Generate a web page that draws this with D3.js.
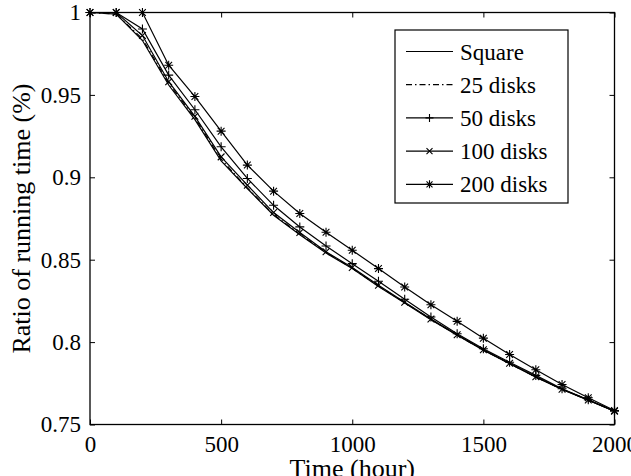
<!DOCTYPE html>
<html>
<head>
<meta charset="utf-8">
<script src="https://cdn.jsdelivr.net/npm/d3@7"></script>
<style>
  body { margin: 0; background: #fff; }
</style>
</head>
<body>
<div id="chart"></div>
<script>
(function() {
    "use strict";

    // data (one point every 100 hours)
    const hours = [0, 100, 200, 300, 400, 500, 600, 700, 800, 900, 1000,
                   1100, 1200, 1300, 1400, 1500, 1600, 1700, 1800, 1900, 2000];
    const square = [1, 0.999, 0.983, 0.956, 0.935, 0.910, 0.8932, 0.877, 0.8652, 0.854, 0.8446,
                    0.8338, 0.8237, 0.8136, 0.8041, 0.795, 0.7869, 0.7787, 0.7713, 0.7648, 0.758];
    const disks25 = [1, 0.999, 0.984, 0.957, 0.936, 0.911, 0.8935, 0.8775, 0.8655, 0.8545, 0.8448,
                     0.834, 0.824, 0.8138, 0.8043, 0.7952, 0.787, 0.7788, 0.7714, 0.7649, 0.7582];
    const disks50 = [1, 1, 0.990, 0.962, 0.941, 0.9185, 0.8993, 0.883, 0.8699, 0.8583, 0.8476,
                     0.8369, 0.826, 0.8152, 0.8051, 0.796, 0.7878, 0.7798, 0.7717, 0.765, 0.758];
    const disks100 = [1, 1, 0.986, 0.958, 0.937, 0.9124, 0.8952, 0.8786, 0.8665, 0.8548, 0.8452,
                      0.8345, 0.8242, 0.814, 0.8045, 0.7953, 0.7872, 0.779, 0.7714, 0.7648, 0.758];
    const disks200 = [1, 1, 1, 0.968, 0.949, 0.928, 0.9074, 0.8916, 0.878, 0.8667, 0.8557,
                      0.8446, 0.8334, 0.8227, 0.8126, 0.8024, 0.7925, 0.7832, 0.7743, 0.7662, 0.7585];

    const seriesNames = ["Square", "25 disks", "50 disks", "100 disks", "200 disks"];
    const seriesValues = [square, disks25, disks50, disks100, disks200];
    const seriesMarkers = ["none", "none", "plus", "cross", "star"];
    const seriesDash = [null, "6,3,1.5,3", null, null, null];

    const xTicks = [0, 500, 1000, 1500, 2000];
    const yTicks = [0.75, 0.8, 0.85, 0.9, 0.95, 1];
    const yTickLabels = ["0.75", "0.8", "0.85", "0.9", "0.95", "1"];

    const serif = "'Liberation Serif', 'Times New Roman', 'DejaVu Serif', serif";
    const width = 631, height = 476;
    const left = 90, right = 614.5, top = 12.5, bottom = 424.5;

    const svg = d3.select("#chart").append("svg")
        .attr("width", width).attr("height", height)
        .attr("font-family", serif);

    const x = d3.scaleLinear().domain([0, 2000]).range([left, right]);
    const y = d3.scaleLinear().domain([0.75, 1]).range([bottom, top]);

    // axes with inward ticks, box on all four sides
    const tick = 5;
    const gx = svg.append("g").attr("transform", "translate(0," + bottom + ")")
        .call(d3.axisBottom(x).tickValues(xTicks).tickSizeInner(-tick).tickSizeOuter(0)
              .tickPadding(11).tickFormat(d3.format("d")));
    const gy = svg.append("g").attr("transform", "translate(" + left + ",0)")
        .call(d3.axisLeft(y).tickValues(yTicks).tickSizeInner(-tick).tickSizeOuter(0)
              .tickPadding(9).tickFormat((d, i) => yTickLabels[i]));
    const gt = svg.append("g").attr("transform", "translate(0," + top + ")")
        .call(d3.axisTop(x).tickValues(xTicks).tickSizeInner(-tick).tickSizeOuter(0).tickFormat(""));
    const gr = svg.append("g").attr("transform", "translate(" + right + ",0)")
        .call(d3.axisRight(y).tickValues(yTicks).tickSizeInner(-tick).tickSizeOuter(0).tickFormat(""));

    [gx, gy, gt, gr].forEach(function(g) {
        g.attr("font-family", serif).attr("font-size", 23);
        g.select(".domain").remove();
        g.selectAll(".tick line").attr("stroke", "#000").attr("stroke-width", 1);
        g.selectAll(".tick text").attr("fill", "#000");
    });
    gx.selectAll(".tick text").attr("dy", "0.72em");

    // line + markers
    const line = d3.line()
        .x(function(d) { return x(d[0]); })
        .y(function(d) { return y(d[1]); });

    function markerPath(type, r) {
        const p = d3.path();
        if (type === "plus" || type === "star") {
            p.moveTo(-r, 0); p.lineTo(r, 0);
            p.moveTo(0, -r); p.lineTo(0, r);
        }
        if (type === "cross" || type === "star") {
            const c = r * 0.75;
            p.moveTo(-c, -c); p.lineTo(c, c);
            p.moveTo(-c, c); p.lineTo(c, -c);
        }
        return p.toString();
    }

    const plot = svg.append("g");
    seriesValues.forEach(function(vals, i) {
        const pts = hours.map(function(h, j) { return [h, vals[j]]; });
        plot.append("path")
            .attr("d", line(pts))
            .attr("fill", "none")
            .attr("stroke", "#000")
            .attr("stroke-width", 1.2)
            .attr("stroke-dasharray", seriesDash[i]);
        if (seriesMarkers[i] !== "none") {
            plot.selectAll(".m" + i).data(pts).enter().append("path")
                .attr("class", "m" + i)
                .attr("transform", function(d) { return "translate(" + x(d[0]) + "," + y(d[1]) + ")"; })
                .attr("d", markerPath(seriesMarkers[i], 4.5))
                .attr("fill", "none")
                .attr("stroke", "#000")
                .attr("stroke-width", 1.1);
        }
    });

    // frame
    svg.append("rect")
        .attr("x", left).attr("y", top)
        .attr("width", right - left).attr("height", bottom - top)
        .attr("fill", "none").attr("stroke", "#000").attr("stroke-width", 1.3);

    // axis titles
    svg.append("text")
        .attr("x", (left + right) / 2).attr("y", 477)
        .attr("text-anchor", "middle").attr("font-size", 26)
        .text("Time (hour)");
    svg.append("text")
        .attr("transform", "translate(30," + ((top + bottom) / 2) + ") rotate(-90)")
        .attr("text-anchor", "middle").attr("font-size", 26)
        .text("Ratio of running time (%)");

    // legend
    const lg = svg.append("g");
    lg.append("rect")
        .attr("x", 395).attr("y", 30).attr("width", 173).attr("height", 173)
        .attr("fill", "#fff").attr("stroke", "#000").attr("stroke-width", 1.2);
    seriesNames.forEach(function(name, i) {
        const ly = 51.5 + i * 33.2;
        lg.append("line")
            .attr("x1", 406).attr("x2", 453).attr("y1", ly).attr("y2", ly)
            .attr("stroke", "#000").attr("stroke-width", 1.2)
            .attr("stroke-dasharray", seriesDash[i]);
        if (seriesMarkers[i] !== "none") {
            lg.append("path")
                .attr("transform", "translate(429.5," + ly + ")")
                .attr("d", markerPath(seriesMarkers[i], 4))
                .attr("fill", "none").attr("stroke", "#000").attr("stroke-width", 1.1);
        }
        lg.append("text")
            .attr("x", 460).attr("y", ly).attr("dy", "0.35em")
            .attr("font-size", 23)
            .text(name);
    });
})();
</script>
</body>
</html>
